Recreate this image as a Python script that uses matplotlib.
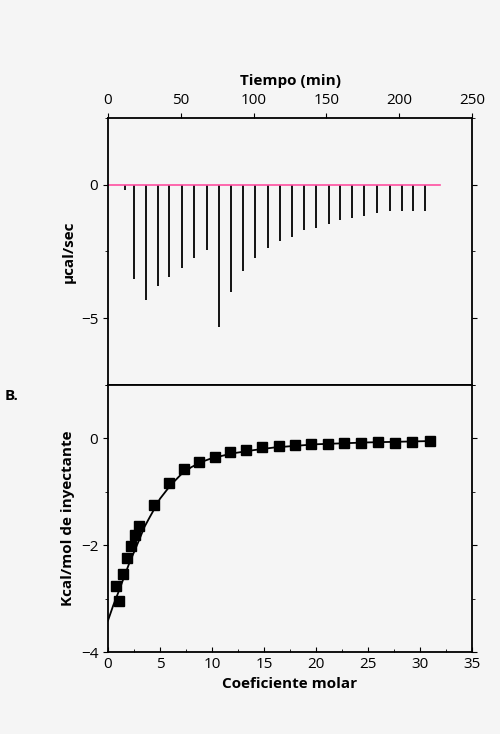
import numpy as np
import matplotlib.pyplot as plt
from matplotlib.ticker import MultipleLocator

plt.rcParams['font.family'] = ['Open Sans', 'DejaVu Sans']

# picos de inyeccion (tiempo en min, profundidad en ucal/sec)
peak_time = [11.7, 17.9, 26.1, 34.3, 42.1, 50.6, 59.2, 68.2, 76.0, 84.2, 92.9, 101.1, 109.6,
             118.1, 126.1, 134.6, 142.8, 151.5, 159.5, 167.7, 176.0, 184.5, 193.4, 201.6, 209.6, 217.6]
peak_depth = [-0.19, -3.53, -4.32, -3.80, -3.45, -3.13, -2.73, -2.44, -5.33, -4.03, -3.22, -2.74, -2.37,
              -2.12, -1.97, -1.69, -1.63, -1.48, -1.34, -1.25, -1.17, -1.05, -1.0, -1.0, -1.0, -1.0]

# calor integrado
molar = [0.77, 1.09, 1.47, 1.86, 2.21, 2.60, 3.01, 4.42, 5.87, 7.31, 8.75, 10.29, 11.76, 13.3,
         14.84, 16.41, 17.98, 19.52, 21.12, 22.72, 24.36, 25.96, 27.63, 29.2, 30.96]
heat = [-2.76, -3.05, -2.54, -2.24, -2.02, -1.81, -1.64, -1.25, -0.84, -0.58, -0.45, -0.34, -0.26,
        -0.21, -0.17, -0.14, -0.125, -0.11, -0.10, -0.08, -0.08, -0.07, -0.09, -0.06, -0.04]

fit_x = [0, 0.5, 1, 1.5, 2, 2.5, 3, 3.5, 4, 5, 6, 7, 8, 9, 10, 12, 14, 16, 18, 20, 25, 31]
fit_y = [-3.41, -3.13, -2.88, -2.62, -2.36, -2.13, -1.90, -1.66, -1.48, -1.13, -0.88, -0.68, -0.54,
         -0.44, -0.37, -0.28, -0.22, -0.17, -0.14, -0.11, -0.075, -0.05]

bg = '#f5f5f5'
fig = plt.figure(figsize=(5, 7.34), dpi=100, facecolor=bg)
ax1 = fig.add_axes([0.216, 0.4755, 0.728, 0.3638], facecolor=bg)
ax2 = fig.add_axes([0.216, 0.1117, 0.728, 0.3638], facecolor=bg)

ax1.vlines(peak_time, 0, peak_depth, color='black', lw=1.3)
ax1.plot([0, 228], [0, 0], color='#ff4fa0', lw=1.2)
ax1.set_xlim(0, 250)
ax1.set_ylim(-7.5, 2.5)
ax1.xaxis.tick_top()
ax1.xaxis.set_label_position('top')
ax1.set_xlabel('Tiempo (min)', fontweight='bold', fontsize=11, labelpad=6)
ax1.set_ylabel('µcal/sec', fontweight='bold', fontsize=11)
ax1.set_yticks([0, -5])
ax1.yaxis.set_minor_locator(MultipleLocator(2.5))
ax1.tick_params(axis='y', which='both', left=True, right=True, direction='out', labelsize=11)
ax1.tick_params(axis='x', direction='out', labelsize=11)

ax2.plot(fit_x, fit_y, color='black', lw=1.3)
ax2.plot(molar, heat, 's', color='black', ms=6.5)
ax2.set_xlim(0, 35)
ax2.set_ylim(-4, 1)
ax2.set_xticks(range(0, 36, 5))
ax2.xaxis.set_minor_locator(MultipleLocator(2.5))
ax2.set_yticks([0, -2, -4])
ax2.yaxis.set_minor_locator(MultipleLocator(1))
ax2.tick_params(axis='x', which='both', direction='in', labelsize=11)
ax2.tick_params(axis='y', which='both', right=True, direction='out', labelsize=11)
ax2.set_xlabel('Coeficiente molar', fontweight='bold', fontsize=11)
ax2.set_ylabel('Kcal/mol de inyectante', fontweight='bold', fontsize=11)

for ax in (ax1, ax2):
    for s in ax.spines.values():
        s.set_linewidth(1.3)

fig.text(0.01, 0.455, 'B.', fontweight='bold', fontsize=11)

fig.savefig('out.png', dpi=100, facecolor=bg)
